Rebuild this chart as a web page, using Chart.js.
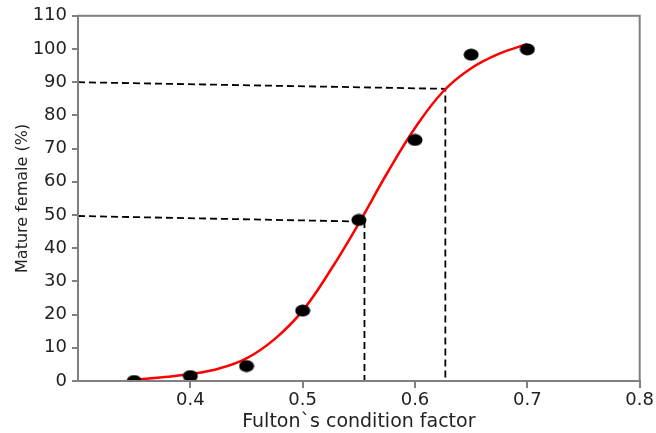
<!DOCTYPE html>
<html>
<head>
<meta charset="utf-8">
<script src="https://cdn.jsdelivr.net/npm/chart.js@4"></script>
<style>
body{margin:0;background:#fff}
#wrap{width:656px;height:433px}
</style>
</head>
<body>
<div id="wrap"><canvas id="canva1" width="656" height="433"></canvas></div>
<script>
// observed points (condition factor, % mature)
var fatorK = [0.35, 0.4, 0.45, 0.5, 0.55, 0.6, 0.65, 0.7]
var maduras = [0, 1.5, 4.5, 21.2, 48.5, 72.6, 98.3, 99.9]

// fitted curve
var curvaX = [0.352, 0.375, 0.4, 0.425, 0.45, 0.475, 0.5, 0.525, 0.55, 0.575, 0.6, 0.625, 0.65, 0.675, 0.7]
var curvaY = [0.4, 1.1, 2.1, 3.7, 6.8, 12.6, 21.2, 33.5, 47.5, 62.5, 76.2, 87.2, 94.2, 98.6, 101.5]

// dashed guides (L50 and L90)
var guia50X = [0.3, 0.555, 0.555]
var guia50Y = [49.7, 48, 0]
var guia90X = [0.3, 0.627, 0.627]
var guia90Y = [90, 88, 0]

var xTicks = [0.4, 0.5, 0.6, 0.7, 0.8]

function pares(xs, ys){
var out = []
for(var i = 0; i < xs.length; i++){
out.push({x: xs[i], y: ys[i]})
}
return out
}

// dot is a bit wider than tall in the original
var bolinha = document.createElement("canvas")
bolinha.width = 16
bolinha.height = 13
var bc = bolinha.getContext("2d")
bc.fillStyle = "#000"
bc.beginPath()
bc.ellipse(8, 6.5, 7.5, 6, 0, 0, Math.PI * 2)
bc.fill()

const moldura = {
id: "moldura",
afterDatasetsDraw(chart){
const a = chart.chartArea
const c = chart.ctx
c.save()
c.strokeStyle = "#808080"
c.lineWidth = 2
c.strokeRect(a.left, a.top, a.right - a.left, a.bottom - a.top)
c.restore()
}
}

const cinza = "#808080"
const familia = "'DejaVu Sans', sans-serif"

const config = {
type: "scatter",
data: {
datasets: [{
label: "observado",
data: pares(fatorK, maduras),
pointStyle: bolinha,
pointRadius: 6
}, {
label: "ajuste",
data: pares(curvaX, curvaY),
showLine: true,
borderColor: "#ff0000",
borderWidth: 2.5,
pointRadius: 0,
tension: 0.4
}, {
label: "L90",
data: pares(guia90X, guia90Y),
showLine: true,
borderColor: "#000",
borderWidth: 1.8,
borderDash: [7, 4],
pointRadius: 0
}, {
label: "L50",
data: pares(guia50X, guia50Y),
showLine: true,
borderColor: "#000",
borderWidth: 1.8,
borderDash: [7, 4],
pointRadius: 0
}]
},
options: {
responsive: false,
animation: false,
layout: {padding: {left: 0, right: 2, top: 9, bottom: 0}},
plugins: {legend: {display: false}, tooltip: {enabled: false}},
scales: {
x: {
type: "linear",
min: 0.3,
max: 0.8,
afterBuildTicks: function(axis){
axis.ticks = xTicks.map(function(v){ return {value: v} })
},
afterFit: function(axis){ axis.height = 52 },
border: {color: cinza, width: 2},
grid: {drawOnChartArea: false, tickColor: cinza, tickLength: 7, lineWidth: 2},
ticks: {color: "#222", font: {family: familia, size: 18}, padding: 2, callback: function(v){ return v.toFixed(1) }},
title: {display: true, text: "Fulton`s condition factor", color: "#222", font: {family: familia, size: 19}, padding: {top: 0, bottom: 0}}
},
y: {
min: 0,
max: 110,
afterFit: function(axis){ axis.width = 78 },
border: {color: cinza, width: 2},
grid: {drawOnChartArea: false, tickColor: cinza, tickLength: 6, lineWidth: 2},
ticks: {stepSize: 10, color: "#222", font: {family: familia, size: 18}, padding: 5},
title: {display: true, text: "Mature female (%)", color: "#222", font: {family: familia, size: 16}, padding: {top: 13, bottom: 0}}
}
}
},
plugins: [moldura]
}

const ctx = document.getElementById("canva1").getContext("2d")
window.chart = new Chart(ctx, config)
</script>
</body>
</html>
